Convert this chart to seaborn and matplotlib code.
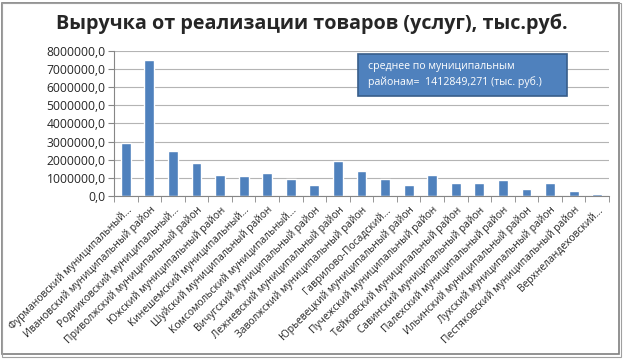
import matplotlib
matplotlib.use('Agg')
import matplotlib.pyplot as plt
import matplotlib.patches as patches
import matplotlib.ticker as mticker
import seaborn as sns
import pandas as pd

# ---- data ----
districts = [
    'Фурмановский муниципальный...',
    'Ивановский муниципальный район',
    'Родниковский муниципальный...',
    'Приволжский муниципальный район',
    'Южский муниципальный район',
    'Кинешемский муниципальный...',
    'Шуйский муниципальный район',
    'Комсомольский муниципальный...',
    'Вичугский муниципальный район',
    'Лежневский муниципальный район',
    'Заволжский муниципальный район',
    'Гаврилово-Посадский...',
    'Юрьевецкий муниципальный район',
    'Пучежский муниципальный район',
    'Тейковский муниципальный район',
    'Савинский муниципальный район',
    'Палехский муниципальный район',
    'Ильинский муниципальный район',
    'Лухский муниципальный район',
    'Пестяковский муниципальный район',
    'Верхнеландеховский...',
]
revenue = [2910000, 7480000, 2470000, 1840000, 1140000, 1090000, 1270000,
           960000, 590000, 1950000, 1360000, 920000, 590000, 1140000,
           740000, 740000, 880000, 370000, 740000, 280000, 130000]
y_ticks = [0, 1000000, 2000000, 3000000, 4000000, 5000000, 6000000, 7000000, 8000000]
title = 'Выручка от реализации товаров (услуг), тыс.руб.'
note = 'среднее по муниципальным\nрайонам=  1412849,271 (тыс. руб.)'

df = pd.DataFrame({'district': districts, 'revenue': revenue})

sns.set_style('white')
plt.rcParams['font.family'] = ['Open Sans', 'DejaVu Sans']

fig = plt.figure(figsize=(6.23, 3.61), dpi=100)
ax = fig.add_axes([0.183, 0.457, 0.7945, 0.402])

sns.barplot(data=df, x='district', y='revenue', color='#4F81BD',
            width=0.42, saturation=1, ax=ax)

# axes styling, excel-like
ax.set_ylim(0, 8000000)
ax.set_xlim(-0.5, len(districts) - 0.5)
ax.set_yticks(y_ticks)
ax.yaxis.set_major_formatter(mticker.FuncFormatter(lambda v, p: f'{v:.1f}'.replace('.', ',')))
ax.grid(axis='y', color='#B4B4B4', linewidth=0.8)
ax.set_axisbelow(True)
for s in ['top', 'right']:
    ax.spines[s].set_visible(False)
ax.spines['left'].set_color('#868686')
ax.spines['bottom'].set_color('#868686')
ax.tick_params(axis='y', left=True, length=4, color='#868686', labelsize=8.7, pad=2)
ax.set_xlabel('')
ax.set_ylabel('')

# labels on major ticks (no marks), tick marks between categories
ax.set_xticks(range(len(districts)))
ax.set_xticklabels(districts, rotation=45, ha='right', rotation_mode='anchor', fontsize=7.4)
ax.tick_params(axis='x', bottom=True, length=0, pad=6)
ax.set_xticks([i - 0.5 for i in range(len(districts) + 1)], minor=True)
ax.tick_params(axis='x', which='minor', bottom=True, length=4, color='#868686')

# annotation box
ax.add_patch(patches.Rectangle((0.493, 0.69), 0.422, 0.289, transform=ax.transAxes,
                               facecolor='#4F81BD', edgecolor='#385D8A', linewidth=1.2,
                               zorder=5))
ax.text(0.513, 0.835, note, transform=ax.transAxes, color='white', fontsize=7.6,
        va='center', ha='left', linespacing=1.5, zorder=6)

fig.text(0.5, 0.935, title, ha='center', va='center', fontsize=14.2, fontweight='bold')

# outer frame
fig.patches.append(patches.Rectangle((0.004, 0.02), 0.99, 0.972, transform=fig.transFigure,
                                     fill=False, edgecolor='#7F7F7F', linewidth=1.2))
fig.patches.append(patches.Rectangle((0.004, 0.012), 0.993, 0.98, transform=fig.transFigure,
                                     fill=False, edgecolor='#A0A0A0', linewidth=0.8))

fig.savefig('out.png', dpi=100)
